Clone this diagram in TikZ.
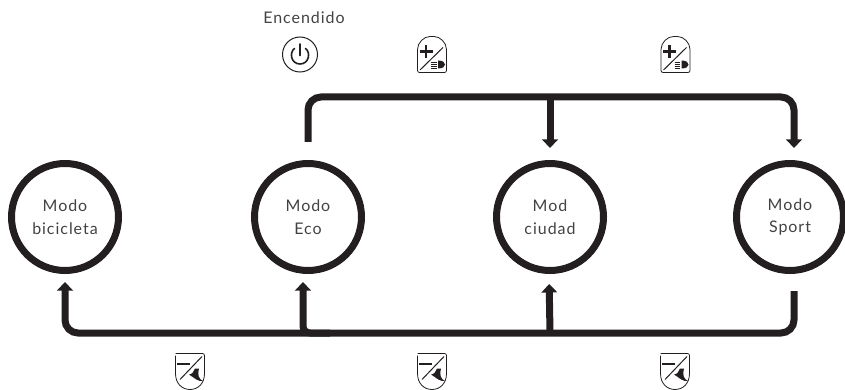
\documentclass[tikz,border=0pt]{standalone}
\usepackage{fontspec}
\setmainfont{Lato}[LetterSpace=6]
\usetikzlibrary{arrows.meta,positioning}
\definecolor{inkdark}{HTML}{231F20}
\tikzset{
    modenode/.style={circle,draw=inkdark,line width=7pt,minimum size=107pt,inner sep=0pt,align=center,font=\fontsize{16}{22.5}\selectfont,text=inkdark!85},
    wire/.style={draw=inkdark,line width=7pt,rounded corners=13pt},
    tip/.style={-{Triangle[width=15.5pt,length=8.5pt]}},
    thinline/.style={draw=inkdark,line width=0.8pt},
    plusicon/.pic={
        \draw[thinline,rounded corners=2pt] (-14.5,18) -- (-14.5,-3) .. controls (-14.5,-12) and (-8,-18) .. (0,-18) .. controls (8,-18) and (14.5,-12) .. (14.5,-3) -- (14.5,18) -- cycle;
        \draw[thinline,line width=1pt] (-12,15.5) -- (11,-7);
        \draw[inkdark,line width=2.2pt] (-12.5,-3) -- (0.5,-3) (-6,-9.5) -- (-6,3.5);
        \fill[inkdark] (6,6) .. controls (11,6) and (13,8) .. (13,10) .. controls (13,12) and (11,14) .. (6,14) -- cycle;
        \foreach \yy in {7.5,9.5,11.5,13.5}
            \draw[inkdark,line width=0.8pt] (-1,\yy) -- (4.5,\yy);
    },
    minusicon/.pic={
        \draw[thinline,rounded corners=2pt] (-14.5,-18) -- (14.5,-18) -- (14.5,3);
        \draw[thinline] (14.5,2) .. controls (14.5,12) and (8,18) .. (0,18) .. controls (-8,18) and (-14.5,12) .. (-14.5,2) -- (-14.5,-16);
        \draw[thinline,line width=1pt] (-10,8) -- (12,-15);
        \draw[inkdark,line width=2.2pt] (-13,-7.5) -- (0,-7.5);
        \fill[inkdark] (5,-3) -- (9,-3) .. controls (7,3) and (9,8) .. (13,9.5) .. controls (8,10) and (5,7) .. (2,5) -- (-1,3) .. controls (2,3) and (4,0) .. cycle;
    },
    powericon/.pic={
        \draw[inkdark,line width=1.6pt,line cap=round] (-5.5,-6) .. controls (-11,-2) and (-9,9.5) .. (0,9.5) .. controls (9,9.5) and (11,-2) .. (5.5,-6);
        \draw[inkdark,line width=1.6pt,line cap=round] (0,-10.5) -- (0,1);
    },
    x=1pt,y=-1pt
}

\begin{document}
\begin{tikzpicture}
    \useasboundingbox (0,0) rectangle (845,390);

    \node[modenode] (bicicleta) at (65,217) {Modo\\bicicleta};
    \node[modenode] (eco) at (308,217) {Modo\\Eco};
    \node[modenode] (ciudad) at (550,217) {Mod\\ciudad};
    \node[modenode] (sport) at (790,217) {Modo\\Sport};

    \coordinate (topleft) at (308,97);
    \coordinate (topright) at (794,97);
    \coordinate (botright) at (794,333);
    \coordinate (botleft) at (65,333);
    \coordinate (botmid) at (303,333);

    % upper row, going up a mode
    \draw[wire,tip,shorten <=18pt,shorten >=12pt] (eco.north) -- (topleft) -- (topright) -- ([xshift=4pt]sport.north);
    \draw[wire,tip,shorten >=12pt] (ciudad.north |- topleft) -- (ciudad.north);

    % lower row, going down a mode
    \draw[wire,tip,shorten <=17pt,shorten >=8pt] ([xshift=4pt]sport.south) -- (botright) -- (botleft) -- (bicicleta.south);
    \draw[wire,tip,shorten >=10pt] (botright -| ciudad.south) -- ([xshift=-1pt]ciudad.south);
    \draw[wire,tip,rounded corners=7pt,shorten >=8pt] (330,333) -- (botmid) -- ([xshift=-5pt]eco.south);

    \node[font=\fontsize{16}{18}\selectfont,text=inkdark!85] (encendido) at (304,18) {Encendido};
    \node[circle,thinline,line width=1pt,minimum size=35pt,inner sep=0pt] (power) at (300,54.5) {};
    \pic at (power) {powericon};

    \pic at (432,54.5) {plusicon};
    \pic at (675.5,54.5) {plusicon};
    \pic at (190,371.5) {minusicon};
    \pic at (432,371.5) {minusicon};
    \pic at (675,371.5) {minusicon};
\end{tikzpicture}
\end{document}
